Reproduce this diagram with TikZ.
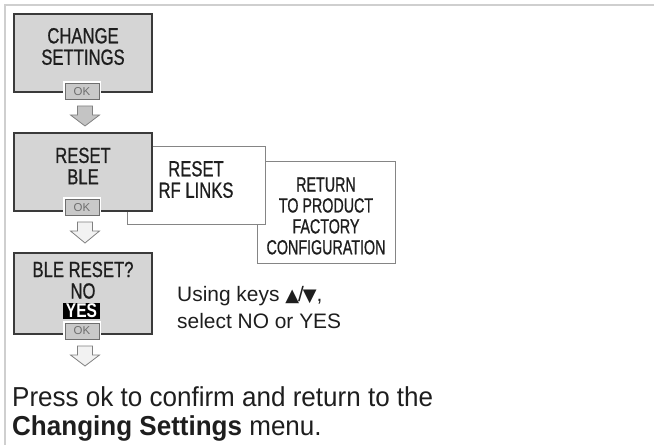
\documentclass[tikz,border=0pt]{standalone}
\usepackage{fontspec}
\setmainfont{Liberation Sans}
\newfontfamily\condf[FakeStretch=0.76,FakeBold=0.8]{Liberation Sans}
\newfontfamily\condw[FakeStretch=0.78]{Liberation Sans}
\newfontfamily\condg[FakeStretch=0.70,FakeBold=0.8]{Liberation Sans}
\newfontfamily\bodyf[FakeStretch=0.95]{Liberation Sans}
\newfontfamily\symf{DejaVu Sans}
\definecolor{framecol}{HTML}{CFCFCF}
\definecolor{boxline}{HTML}{3A3A3A}
\definecolor{boxfill}{HTML}{D5D5D5}
\definecolor{wline}{HTML}{858585}
\definecolor{okfill}{HTML}{C9C9C9}
\definecolor{okline}{HTML}{6E6E6E}
\definecolor{txtcol}{HTML}{1E1E1E}
\definecolor{arrfillA}{HTML}{C4C4C4}
\definecolor{arrfillB}{HTML}{F2F2F2}
\definecolor{arrline}{HTML}{808080}
\tikzset{
  graybox/.style={draw=boxline, fill=boxfill, line width=1.3bp, minimum width=138bp, minimum height=78bp, inner sep=0pt},
  whitebox/.style={draw=wline, fill=white, line width=0.9bp, minimum width=138bp, minimum height=78bp, inner sep=0pt},
  boxtext/.style={font=\condf\fontsize{22}{21.5}\selectfont, align=center, inner sep=0pt, text=txtcol},
  boxtextsmall/.style={font=\condg\fontsize{20.5}{21}\selectfont, align=center, inner sep=0pt, text=txtcol},
  selbox/.style={font=\condw\fontsize{20}{20}\bfseries\selectfont, fill=black, text=white, inner sep=0pt, minimum width=37bp, minimum height=16bp},
  okbtn/.style={draw=okline, fill=okfill, line width=0.8bp, minimum width=34bp, minimum height=16bp, inner sep=0pt,
    font=\fontsize{11.5}{11.5}\selectfont, text=okline, preaction={draw=white, line width=4bp}},
  blockarrow/.style={draw=arrline, line width=0.8bp, line join=miter},
  plaintext/.style={inner sep=0pt, text=txtcol, anchor=base west},
}
\begin{document}
\begin{tikzpicture}[x=1bp, y=-1bp]
\useasboundingbox (0,0) rectangle (654,445);
% frame
\coordinate (fc) at (5,5);
\coordinate (fr) at (654,5);
\coordinate (fb) at (5,445);
\draw[framecol, line width=1.5bp] (fr) -- (fc) -- (fb);

% boxes (back to front)
\node[whitebox, minimum height=102bp] (b4) at (326,212) {};
\node[whitebox] (b3) at (196,185) {};
\node[graybox] (b1) at (83,53) {};
\node[graybox] (b2) at (83,172) {};
\node[graybox, minimum height=81bp] (b5) at (83,293.5) {};

% box texts
\node[boxtext] (t1) at (83,46.5) {CHANGE\\SETTINGS};
\node[boxtext] (t2) at (83,166) {RESET\\BLE};
\node[boxtext] (t3) at (196,179.5) {RESET\\RF LINKS};
\node[boxtextsmall] (t4) at (326,216) {RETURN\\TO PRODUCT\\FACTORY\\CONFIGURATION};
\node[boxtext] (t5a) at (83,269.5) {BLE RESET?};
\node[boxtext] (t5b) at (83,291) {NO};
\node[selbox] (t5c) at (81.5,311) {YES};

% OK buttons
\node[okbtn] (ok1) at (82,91.5) {OK};
\node[okbtn] (ok2) at (82,207.5) {OK};
\node[okbtn] (ok3) at (82,331) {OK};

% block arrows
\coordinate (a1) at (85,106);
\coordinate (a2) at (85,222);
\coordinate (a3) at (85,346);
\draw[blockarrow, fill=arrfillA] ([shift={(-7.5,0)}]a1) -- ++(15,0) -- ++(0,9) -- ++(7,0) -- ++(-14.5,11) -- ++(-14.5,-11) -- ++(7,0) -- cycle;
\draw[blockarrow, fill=arrfillB] ([shift={(-7.5,0)}]a2) -- ++(15,0) -- ++(0,9) -- ++(7,0) -- ++(-14.5,12) -- ++(-14.5,-12) -- ++(7,0) -- cycle;
\draw[blockarrow, fill=arrfillB] ([shift={(-7.5,0)}]a3) -- ++(15,0) -- ++(0,9) -- ++(7,0) -- ++(-14.5,11) -- ++(-14.5,-11) -- ++(7,0) -- cycle;

% side note
\node[plaintext, font=\fontsize{21}{26}\selectfont] (u1) at (177,302) {Using keys {\symf\fontsize{18}{18}\selectfont ▲}\kern-1bp/\kern-1bp{\symf\fontsize{18}{18}\selectfont ▼},};
\node[plaintext, font=\fontsize{21}{26}\selectfont] (u2) at (177,328) {select NO or YES};

% bottom text
\node[plaintext, font=\bodyf\fontsize{27.5}{29}\selectfont] (p1) at (12,406) {Press ok to confirm and return to the};
\node[plaintext, font=\bodyf\fontsize{27.5}{29}\selectfont] (p2) at (12,435) {\textbf{Changing Settings} menu.};
\end{tikzpicture}
\end{document}
